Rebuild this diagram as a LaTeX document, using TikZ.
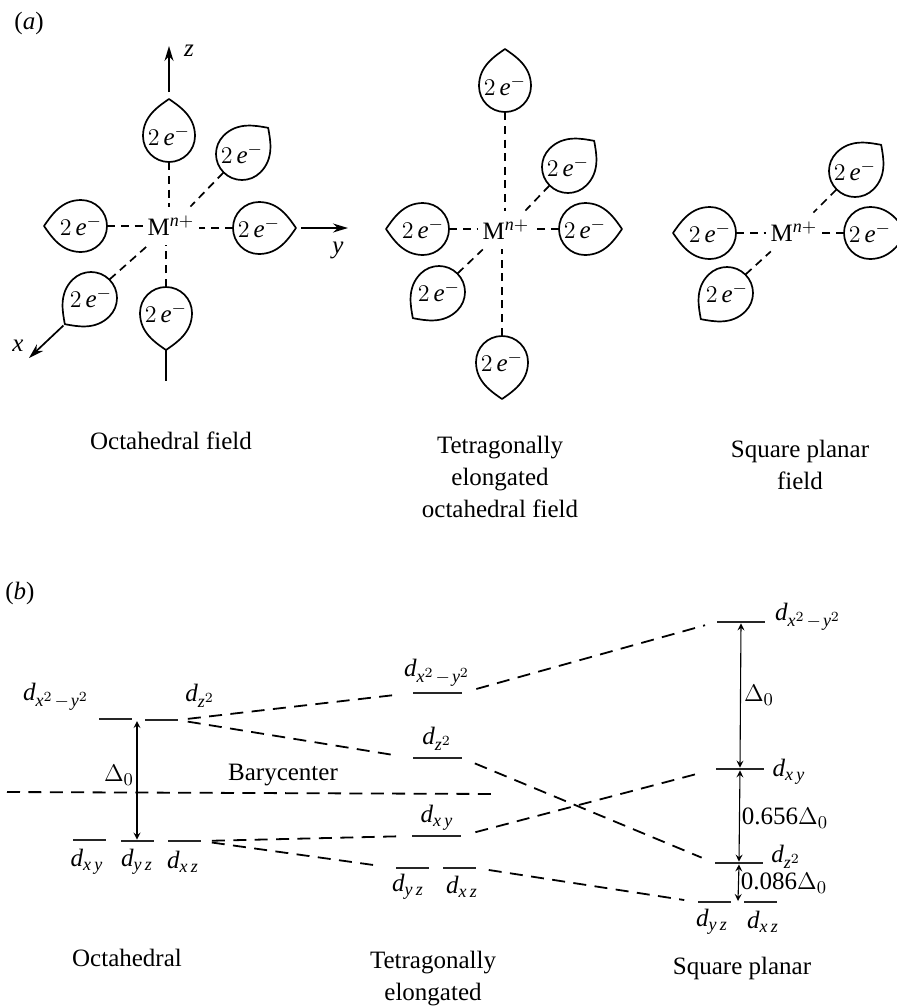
\documentclass[tikz,border=0pt]{standalone}
\usepackage{fontspec}
\setmainfont{Liberation Serif}
\usetikzlibrary{arrows.meta}
\DeclareMathSizes{12.5}{12.5}{9}{7}

% orbital labels
\newcommand{\orbPair}[2]{$\mathit{d}_{\mathit{#1}\mkern3mu\mathit{#2}}$}
\newcommand{\orbZsq}{$\mathit{d}_{\mathit{z}^{2}}$}
\newcommand{\orbXsq}{$\mathit{d}_{\mathit{x}^{2}\mkern2mu-\mkern2mu\mathit{y}^{2}}$}

% one teardrop: name, centre, direction of the tip
\newcommand{\lobeAt}[3]{
  \node[lobeNode] (#1) at (#2) {$2\,\mathit{e}^{-}$};
  \draw[lobeLine, shift={(#2)}, rotate=#3] (18.5pt,0pt) .. controls (15pt,5pt) and (10pt,13pt) .. (0pt,13pt)
    arc[start angle=90, end angle=270, radius=13pt] .. controls (10pt,-13pt) and (15pt,-5pt) .. cycle;
  \path[shift={(#2)}, rotate=#3] (18.5pt,0pt) coordinate (#1Tip);
}

\begin{document}
\begin{tikzpicture}[
  x=0.5pt, y=-0.5pt,
  >=stealth,
  lobeNode/.style   ={circle, inner sep=0pt, minimum size=26pt, font=\fontsize{12.5}{16}\selectfont},
  lobeLine/.style   ={line width=0.85pt, line join=round},
  metalNode/.style  ={rectangle, inner sep=0pt, minimum width=28pt, minimum height=19pt, font=\fontsize{12.5}{16}\selectfont},
  textNode/.style   ={inner sep=0pt, align=center, font=\fontsize{12.5}{16}\selectfont},
  levelNode/.style  ={rectangle, inner sep=0pt, fill=black!85, minimum height=1pt, minimum width=#1},
  levelNode/.default=16.5pt,
  bond/.style       ={dash pattern=on 4pt off 2.8pt, line width=0.85pt},
  axisArrow/.style  ={-{Stealth[length=7.5pt,width=4.5pt]}, line width=0.85pt},
  levelLink/.style  ={dash pattern=on 6.5pt off 4.2pt, line width=0.9pt},
  gapArrow/.style   ={<->, line width=0.55pt}
]
\clip (0,0) rectangle (897,1008);

% ================== PANEL A, OCTAHEDRAL ==================
\node[textNode] (labelA) at (29,23) {(\textit{a})};
\node[metalNode] (MA) at (171,226) {M$^{\mathit{n}+}$};
\lobeAt{AZp}{169,136}{90}
\lobeAt{AXm}{242,154}{45}
\lobeAt{AYm}{81,226}{180}
\lobeAt{AYp}{259,228}{0}
\lobeAt{AXp}{91,298}{225}
\lobeAt{AZm}{166,313}{270}

\draw[bond] (AZp.south) -- (AZp.south |- MA.north);
\draw[bond] (AXm.225) -- (MA.45);
\draw[bond] (AYm.east) -- (AYm.east -| MA.west);
\draw[bond] (AYp.west) -- (AYp.west -| MA.east);
\draw[bond] (AXp.45) -- (MA.220);
\draw[bond] (AZm.north) -- (AZm.north |- MA.south);

\coordinate (zEnd) at (169,46);
\coordinate (yEnd) at (348,228);
\coordinate (xEnd) at (29,358);
\coordinate (zmEnd) at (166,381);
\draw[axisArrow, shorten <=3.5pt] (AZpTip) -- (zEnd);
\draw[axisArrow, shorten <=2.5pt] (AYpTip) -- (yEnd);
\draw[axisArrow, shorten <=1pt] (AXpTip) -- (xEnd);
\draw[lobeLine] (AZmTip) -- (zmEnd);
\node[textNode] (zLabel) at (189,51) {\textit{z}};
\node[textNode] (yLabel) at (338,250) {\textit{y}};
\node[textNode] (xLabel) at (18,346) {\textit{x}};
\node[textNode] (capOct) at (171,441) {Octahedral field};

% ================== PANEL A, ELONGATED ==================
\node[metalNode] (MB) at (506,230) {M$^{\mathit{n}+}$};
\lobeAt{BZp}{505,86}{90}
\lobeAt{BXm}{568,167}{45}
\lobeAt{BYm}{423,229}{180}
\lobeAt{BYp}{585,229}{0}
\lobeAt{BXp}{439,292}{225}
\lobeAt{BZm}{502,362}{270}

\draw[bond] (BZp.south) -- (BZp.south |- MB.north);
\draw[bond] (BXm.225) -- (MB.45);
\draw[bond] (BYm.east) -- (BYm.east -| MB.west);
\draw[bond] (BYp.west) -- (BYp.west -| MB.east);
\draw[bond] (BXp.45) -- (MB.220);
\draw[bond] (BZm.north) -- (BZm.north |- MB.south);
\node[textNode] (capTet) at (500,477) {Tetragonally\\elongated\\octahedral field};

% ================== PANEL A, SQUARE PLANAR ==================
\node[metalNode] (MC) at (794,232) {M$^{\mathit{n}+}$};
\lobeAt{CXm}{855,171}{45}
\lobeAt{CYm}{710,233}{180}
\lobeAt{CYp}{870,233}{0}
\lobeAt{CXp}{727,293}{225}

\draw[bond] (CXm.225) -- (MC.45);
\draw[bond] (CYm.east) -- (CYm.east -| MC.west);
\draw[bond] (CYp.west) -- (CYp.west -| MC.east);
\draw[bond] (CXp.45) -- (MC.220);
\node[textNode] (capSq) at (800,465) {Square planar\\field};

% ================== PANEL B, OCTAHEDRAL LEVELS ==================
\node[textNode] (labelB) at (20,593) {(\textit{b})};
\node[levelNode] (oX2) at (115,719) {};
\node[levelNode] (oZ2) at (161,720) {};
\node[levelNode] (oXY) at (89,840) {};
\node[levelNode] (oYZ) at (137,841) {};
\node[levelNode] (oXZ) at (184,841) {};
\node[textNode] (oX2Label) at (56,697) {\orbXsq};
\node[textNode] (oZ2Label) at (200,696) {\orbZsq};
\node[textNode] (oXYLabel) at (87,862) {\orbPair{x}{y}};
\node[textNode] (oYZLabel) at (137,862) {\orbPair{y}{z}};
\node[textNode] (oXZLabel) at (183,862) {\orbPair{x}{z}};
\node[textNode] (oDelta) at (119,775) {$\Delta_0$};
\node[textNode] (baryLabel) at (283,775) {Barycenter};
\node[textNode] (capOctB) at (127,958) {Octahedral};

\coordinate (oGap) at (137,721);
\draw[gapArrow] (oGap) -- (oYZ.north);

\coordinate (baryL) at (7,792);
\coordinate (baryR) at (497,794);
\draw[levelLink] (baryL) -- (baryR);

% ================== PANEL B, ELONGATED LEVELS ==================
\node[levelNode=24.5pt] (tX2) at (437,693) {};
\node[levelNode=24.5pt] (tZ2) at (437,758) {};
\node[levelNode=24.5pt] (tXY) at (436,836) {};
\node[levelNode] (tYZ) at (412,868) {};
\node[levelNode] (tXZ) at (459,868) {};
\node[textNode] (tX2Label) at (437,673) {\orbXsq};
\node[textNode] (tZ2Label) at (437,739) {\orbZsq};
\node[textNode] (tXYLabel) at (437,818) {\orbPair{x}{y}};
\node[textNode] (tYZLabel) at (408,887) {\orbPair{y}{z}};
\node[textNode] (tXZLabel) at (462,887) {\orbPair{x}{z}};
\node[textNode] (capTetB) at (433,979) {Tetragonally\\elongated};

\draw[levelLink, shorten <=5pt, shorten >=9pt] (oZ2.east) -- (tX2.west);
\draw[levelLink, shorten <=5pt, shorten >=7.5pt] (oZ2.east) -- (tZ2.west);
\draw[levelLink, shorten <=5.5pt, shorten >=7.5pt] (oXZ.east) -- (tXY.west);
\draw[levelLink, shorten <=5.5pt, shorten >=7pt] (oXZ.east) -- (tYZ.west);

% ================== PANEL B, SQUARE PLANAR LEVELS ==================
\node[levelNode=24pt] (sX2) at (741,622) {};
\node[levelNode=24pt] (sXY) at (740,769) {};
\node[levelNode=24pt] (sZ2) at (739,863) {};
\node[levelNode] (sYZ) at (714,902) {};
\node[levelNode] (sXZ) at (760,902) {};
\node[textNode] (sX2Label) at (808,617) {\orbXsq};
\node[textNode] (sXYLabel) at (789,772) {\orbPair{x}{y}};
\node[textNode] (sZ2Label) at (786,857) {\orbZsq};
\node[textNode] (sYZLabel) at (712,922) {\orbPair{y}{z}};
\node[textNode] (sXZLabel) at (763,922) {\orbPair{x}{z}};
\node[textNode] (sDelta) at (759,695) {$\Delta_0$};
\node[textNode] (sDeltaA) at (785,818) {0.656$\Delta_0$};
\node[textNode] (sDeltaB) at (784,883) {0.086$\Delta_0$};
\node[textNode] (capSqB) at (742,968) {Square planar};

\coordinate (sGap) at (738,901);
\draw[gapArrow] (sX2.south) -- (sXY.north);
\draw[gapArrow] (sXY.south) -- (sZ2.north);
\draw[gapArrow] (sZ2.south) -- (sGap);

\draw[levelLink, shorten <=7.5pt, shorten >=6pt] (tX2.east) -- (sX2.west);
\draw[levelLink, shorten <=7pt, shorten >=7pt] (tZ2.east) -- (sZ2.west);
\draw[levelLink, shorten <=7.5pt, shorten >=6.5pt] (tXY.east) -- (sXY.west);
\draw[levelLink, shorten <=6.5pt, shorten >=6.5pt] (tXZ.east) -- (sYZ.west);

\end{tikzpicture}
\end{document}
